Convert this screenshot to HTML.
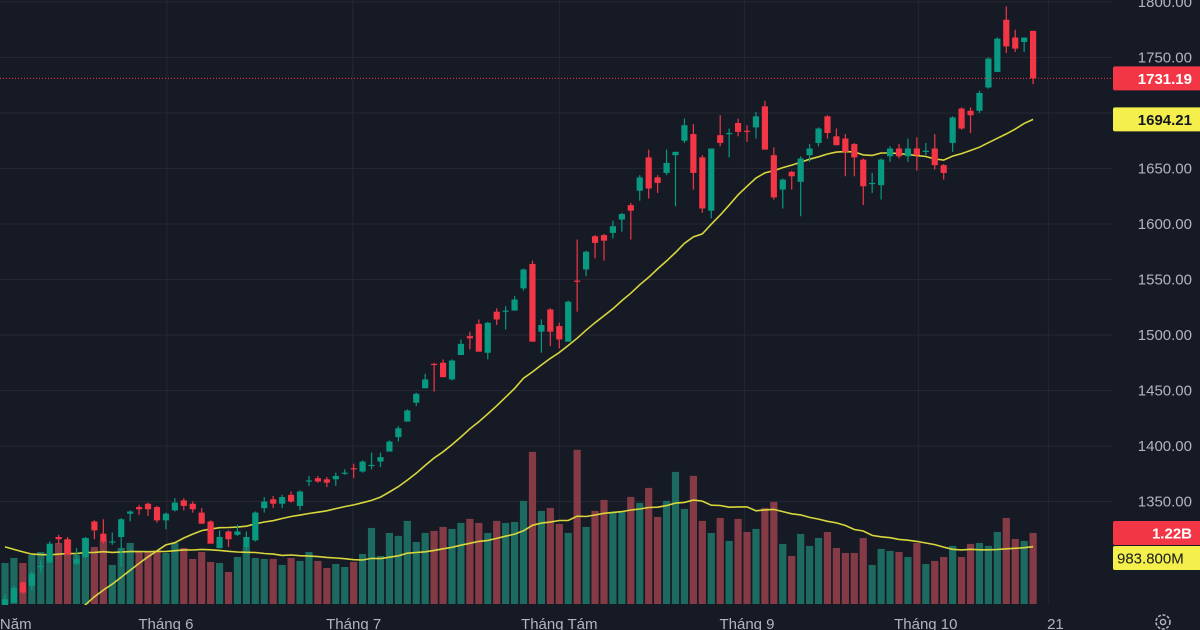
<!DOCTYPE html>
<html><head><meta charset="utf-8"><style>
html,body{margin:0;padding:0;background:#161a25;overflow:hidden}
#wrap{position:relative;width:1200px;height:630px;background:#161a25;font-family:"Liberation Sans","Noto Sans CJK JP",sans-serif}
svg text{font-family:"Liberation Sans","Noto Sans CJK JP",sans-serif}
</style></head><body>
<div id="wrap">
<svg id="chart" width="1200" height="630" viewBox="0 0 1200 630">
<defs><clipPath id="plotClip"><rect x="0" y="0" width="1112" height="605"/></clipPath></defs>
</svg>
</div>
<script>
const opens=[1250,1259,1277,1274,1291,1295,1318,1316,1294,1300,1332,1321,1313,1318,1339,1345,1348,1345,1333,1342,1351,1348,1340,1332,1308,1323,1320,1309,1315,1344,1352,1348,1356,1346,1368,1371,1370,1370,1375,1380,1377,1382,1386,1395,1408,1422,1439,1452,1474,1475,1460,1482,1499,1510,1484,1521,1521,1522,1542,1564,1503,1523,1508,1494,1549,1559,1589,1590,1592,1604,1617,1630,1660,1642,1646,1662,1675,1681,1660,1612,1680,1681,1691,1684,1687,1706,1662,1631,1647,1638,1662,1673,1697,1679,1677,1672,1658,1636,1635,1661,1668,1661,1668,1665,1668,1653,1673,1704,1702,1702,1723,1737,1784,1768,1764,1774];
const highs=[1266,1274,1278,1287,1297,1314,1320,1318,1308,1318,1333,1334,1322,1335,1342,1347,1349,1346,1340,1353,1353,1350,1344,1333,1324,1324,1329,1323,1341,1354,1355,1356,1359,1360,1373,1373,1372,1376,1379,1384,1387,1394,1394,1405,1418,1433,1448,1465,1475,1478,1478,1496,1503,1514,1512,1524,1526,1535,1560,1567,1514,1524,1511,1531,1586,1576,1590,1591,1603,1610,1619,1644,1667,1644,1667,1665,1695,1690,1662,1668,1698,1686,1695,1689,1701,1711,1669,1641,1648,1661,1672,1687,1698,1686,1681,1673,1659,1646,1659,1670,1672,1677,1678,1673,1681,1654,1697,1705,1705,1720,1750,1768,1796,1775,1768,1774];
const lows=[1245,1259,1267,1270,1286,1295,1312,1302,1293,1299,1316,1312,1311,1291,1332,1338,1337,1331,1325,1341,1342,1340,1330,1312,1308,1309,1319,1306,1314,1340,1344,1344,1349,1342,1364,1367,1363,1364,1374,1371,1376,1379,1381,1395,1404,1422,1436,1452,1449,1462,1459,1482,1487,1485,1478,1509,1505,1522,1540,1494,1484,1490,1488,1494,1521,1553,1569,1567,1587,1593,1586,1621,1623,1628,1644,1616,1673,1631,1610,1605,1670,1660,1679,1674,1677,1667,1622,1614,1631,1607,1656,1670,1677,1671,1643,1643,1617,1628,1622,1656,1659,1656,1648,1662,1649,1640,1665,1685,1682,1700,1722,1737,1754,1755,1755,1726];
const closes=[1262,1272,1268,1285,1292,1312,1316,1302,1298,1317,1324,1314,1314,1334,1341,1343,1343,1333,1339,1349,1346,1343,1330,1312,1318,1316,1323,1318,1340,1350,1348,1354,1350,1359,1369,1368,1367,1373,1376,1379,1386,1383,1390,1404,1416,1432,1447,1460,1473,1462,1477,1492,1497,1485,1511,1514,1522,1532,1559,1494,1509,1503,1496,1530,1548,1575,1583,1585,1598,1609,1612,1642,1632,1637,1655,1665,1689,1646,1614,1668,1673,1682,1683,1683,1697,1667,1624,1640,1643,1659,1668,1686,1682,1671,1665,1660,1634,1637,1658,1668,1661,1668,1662,1666,1653,1646,1696,1686,1698,1718,1749,1767,1760,1758,1768,1731.19];
const volumes=[705,791,705,843,894,860,1049,1101,843,1135,980,1101,671,963,1049,894,894,912,877,1049,963,774,894,722,705,550,808,980,791,774,774,671,791,740,894,740,619,688,636,722,860,1307,826,1221,1170,1428,1066,1221,1256,1324,1290,1393,1462,1393,1221,1428,1393,1410,1772,2614,1600,1651,1376,1221,2649,1324,1600,1789,1582,1582,1840,1737,1995,1496,1772,2270,1634,2202,1428,1221,1479,1084,1462,1238,1290,1651,1754,1032,826,1204,998,1135,1238,963,877,877,1135,671,946,912,894,808,1049,688,740,808,998,808,1032,1049,998,1238,1479,1118,1084,1221];
const priorCloses=[1310,1295,1250,1215,1140,1205,1175,1185,1195,1180,1195,1205,1210,1215,1220,1225,1225,1232,1309];
const priorVolumes=[1634,1582,1600,1032,946,826,894,860,774,946,860,894,826,912,860,946,826,894,791];
const priceTicks=[1350,1400,1450,1500,1550,1600,1650,1700,1750,1800];
const timeLabels=["Năm","Tháng 6","Tháng 7","Tháng Tám","Tháng 9","Tháng 10","21"];
const timeLabelIdx=[1.2,18,39,62,83,103,117.5];
const gridIdx=[18.1,38.9,62,82.7,102.2,116.7];

const NS="http://www.w3.org/2000/svg";
const svg=document.getElementById('chart');
const X0=5,DX=8.94;
function xs(i){return X0+i*DX;}
function yp(p){return 2+(1800-p)*1.11;}
function yv(v){return 604-v/1000*58.2;}
function mk(tag,attrs,parent){const e=document.createElementNS(NS,tag);for(const k in attrs)e.setAttribute(k,attrs[k]);(parent||svg).appendChild(e);return e;}
const UP='#089981',DN='#f23645';

const grid=mk('g',{});


priceTicks.forEach(t=>{const l=mk('line',{x1:0,x2:1112,y1:yp(t),y2:yp(t),stroke:'#242833','stroke-width':1},grid);

});
gridIdx.forEach(g=>{const l=mk('line',{x1:xs(g),x2:xs(g),y1:0,y2:605,stroke:'#242833','stroke-width':1},grid);

});

const plot=mk('g',{'clip-path':'url(#plotClip)'});



const vg=mk('g',{},plot);


volumes.forEach((v,i)=>{const up=closes[i]>=opens[i];const y=yv(v);
const r=mk('rect',{x:xs(i)-3.6,y:y,width:7.2,height:604-y,fill:up?'#1d6a60':'#853b46'},vg);

});

const allV=priorVolumes.concat(volumes);
let vpts=[];
volumes.forEach((v,i)=>{let s=0;for(let k=0;k<20;k++)s+=allV[i+19-k];vpts.push(xs(i).toFixed(1)+','+yv(s/20).toFixed(1));});
const vma=mk('polyline',{points:vpts.join(' '),fill:'none',stroke:'#d8d63c','stroke-width':1.6},plot);



const allC=priorCloses.concat(closes);
let ppts=[];let lastMA=0;
closes.forEach((c,i)=>{let s=0;for(let k=0;k<20;k++)s+=allC[i+19-k];lastMA=s/20;ppts.push(xs(i).toFixed(1)+','+yp(lastMA).toFixed(1));});
const pma=mk('polyline',{points:ppts.join(' '),fill:'none',stroke:'#d8d63c','stroke-width':1.6},plot);



const cg=mk('g',{},plot);


closes.forEach((c,i)=>{const o=opens[i];const up=c>=o;const col=up?UP:DN;const x=xs(i);
const w=mk('line',{x1:x,x2:x,y1:yp(highs[i]),y2:yp(lows[i]),stroke:col,'stroke-width':1.2},cg);


const yt=yp(Math.max(o,c)),yb=yp(Math.min(o,c));
const b=mk('rect',{x:x-3.1,y:yt,width:6.2,height:Math.max(1.2,yb-yt),fill:col},cg);

});

const lastC=closes[closes.length-1];
const dl=mk('line',{x1:0,x2:1112,y1:yp(lastC),y2:yp(lastC),stroke:DN,'stroke-width':1,'stroke-dasharray':'1 2'});



const ax=mk('g',{});


priceTicks.forEach(t=>{const tx=mk('text',{x:1192,y:yp(t)+5,'text-anchor':'end','font-size':15,fill:'#b2b5be'},ax);tx.textContent=t.toFixed(2);

});

function tag(y,bg,fg,txt,name){const g=mk('g',{});


mk('rect',{x:1113,y:y-12,width:90,height:24,fill:bg,rx:2},g);
const t=mk('text',{x:1192,y:y+5.5,'text-anchor':'end','font-size':15,'font-weight':'bold',fill:fg},g);t.textContent=txt;}
tag(yp(lastC),'#f23645','#ffffff',lastC.toFixed(2),'last-price-tag');
tag(yp(lastMA),'#f4ef4a','#131722',lastMA.toFixed(2),'price-ma-tag');
const lastV=volumes[volumes.length-1];
let vs=0;for(let k=0;k<20;k++)vs+=allV[allV.length-1-k];
tag(533,'#f23645','#ffffff',(lastV/1000).toFixed(2)+'B','last-volume-tag');
const vmT=mk('g',{});


mk('rect',{x:1113,y:546,width:90,height:24,fill:'#f4ef4a',rx:2},vmT);
const vt=mk('text',{x:1117,y:563.5,'font-size':15,fill:'#131722'},vmT);vt.textContent=(vs/20).toFixed(3)+'M';

const tg=mk('g',{});


timeLabels.forEach((l,i)=>{const t=mk('text',{x:xs(timeLabelIdx[i]),y:629,'text-anchor':'middle','font-size':15,fill:'#b2b5be'},tg);t.textContent=l;

});

const gear=mk('g',{transform:'translate(1163,622)'});


mk('circle',{cx:0,cy:0,r:7,fill:'none',stroke:'#b2b5be','stroke-width':1.6,'stroke-dasharray':'3 1.6'},gear);
mk('circle',{cx:0,cy:0,r:2.6,fill:'none',stroke:'#b2b5be','stroke-width':1.4},gear);
</script>
</body></html>
